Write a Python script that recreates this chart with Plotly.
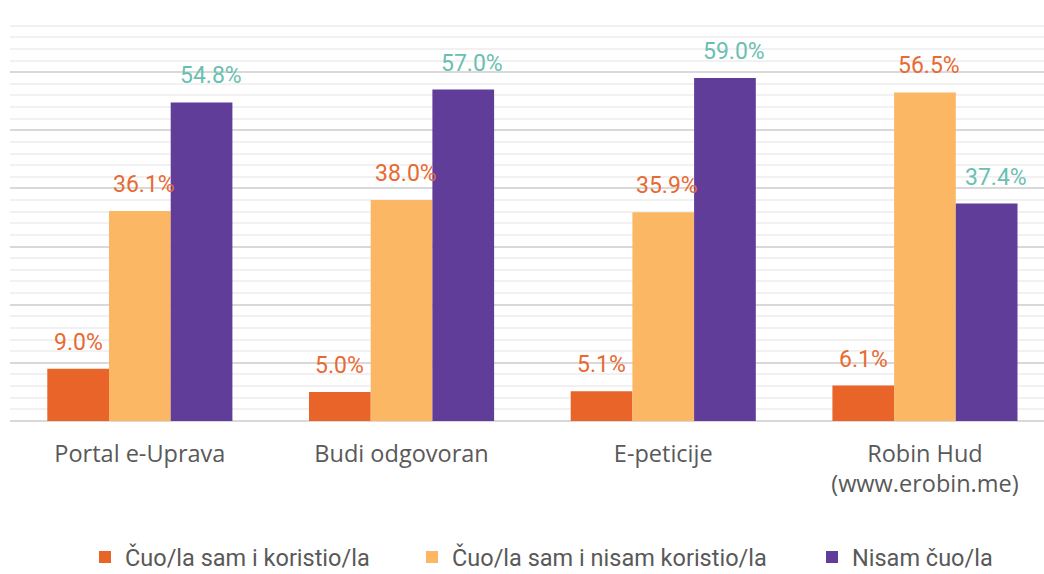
import plotly.graph_objects as go

categories = ["Portal e-Uprava", "Budi odgovoran", "E-peticije", "Robin Hud<br>(www.erobin.me)"]
series_names = ["Čuo/la sam i koristio/la", "Čuo/la sam i nisam koristio/la", "Nisam čuo/la"]
used = [9.0, 5.0, 5.1, 6.1]
heard_not_used = [36.1, 38.0, 35.9, 56.5]
not_heard = [54.8, 57.0, 59.0, 37.4]

series_values = [used, heard_not_used, not_heard]
bar_colors = ["#E86428", "#FBB764", "#5F3D98"]
label_colors = ["#E86A33", "#E86A33", "#6BBFB1"]
label_xshift = [0, 4, 9]  # label nudges relative to bar centers (px)

W, H = 1044, 574
ML, MR, MT, MB = 10, 0, 14, 153
bar_px = 61.7
cat_px = 261.7

fig = go.Figure()
legend_ids = ["legend", "legend2", "legend3"]
for i, (name, vals) in enumerate(zip(series_names, series_values)):
    fig.add_trace(go.Bar(
        x=categories, y=vals, name=name,
        marker=dict(color=bar_colors[i], line=dict(width=0)),
        legend=legend_ids[i],
        hoverinfo="skip",
    ))

annotations = []
for i, vals in enumerate(series_values):
    for c, v in zip(categories, vals):
        annotations.append(dict(
            x=c, y=v, xref="x", yref="y",
            text=f"{v:.1f}%", showarrow=False,
            yanchor="bottom", xanchor="center",
            xshift=(i - 1) * bar_px + label_xshift[i], yshift=11,
            font=dict(family="Roboto", size=23, color=label_colors[i]),
        ))

plot_w = W - ML - MR
left_val = -(cat_px / 2 - 1) / cat_px
right_val = left_val + plot_w / cat_px

leg_font = dict(family="Roboto", size=23.5, color="#595959")
legend_common = dict(orientation="h", yanchor="middle", y=-0.335, xanchor="left",
                     font=leg_font, bgcolor="rgba(0,0,0,0)", borderwidth=0)

fig.update_layout(
    width=W, height=H,
    margin=dict(l=ML, r=MR, t=MT, b=MB, autoexpand=False),
    paper_bgcolor="white", plot_bgcolor="white",
    barmode="group", bargap=1 - 3 * bar_px / cat_px, bargroupgap=0,
    font=dict(family="Roboto", color="#595959"),
    xaxis=dict(
        type="category", range=[left_val, right_val],
        showgrid=False, showline=False, zeroline=False,
        ticks="", ticklabelstandoff=16,
        tickfont=dict(family="Open Sans", size=23.5, color="#595959"),
        fixedrange=True,
    ),
    yaxis=dict(
        range=[0, 70], dtick=10, showticklabels=False,
        showgrid=True, gridcolor="#D9D9D9", gridwidth=1.5,
        zeroline=True, zerolinecolor="#D9D9D9", zerolinewidth=1.5,
        showline=False, ticks="",
        minor=dict(dtick=2, showgrid=True, gridcolor="#F1F1F1", gridwidth=1.5),
        fixedrange=True,
    ),
    legend=dict(x=(85 - ML) / plot_w, **legend_common),
    legend2=dict(x=(412 - ML) / plot_w, **legend_common),
    legend3=dict(x=(812 - ML) / plot_w, **legend_common),
    annotations=annotations,
    showlegend=True,
)

fig.write_html(
    "out.html",
    config={"displayModeBar": False},
    post_script="document.body.style.margin='0';document.body.style.overflow='hidden';",
)
